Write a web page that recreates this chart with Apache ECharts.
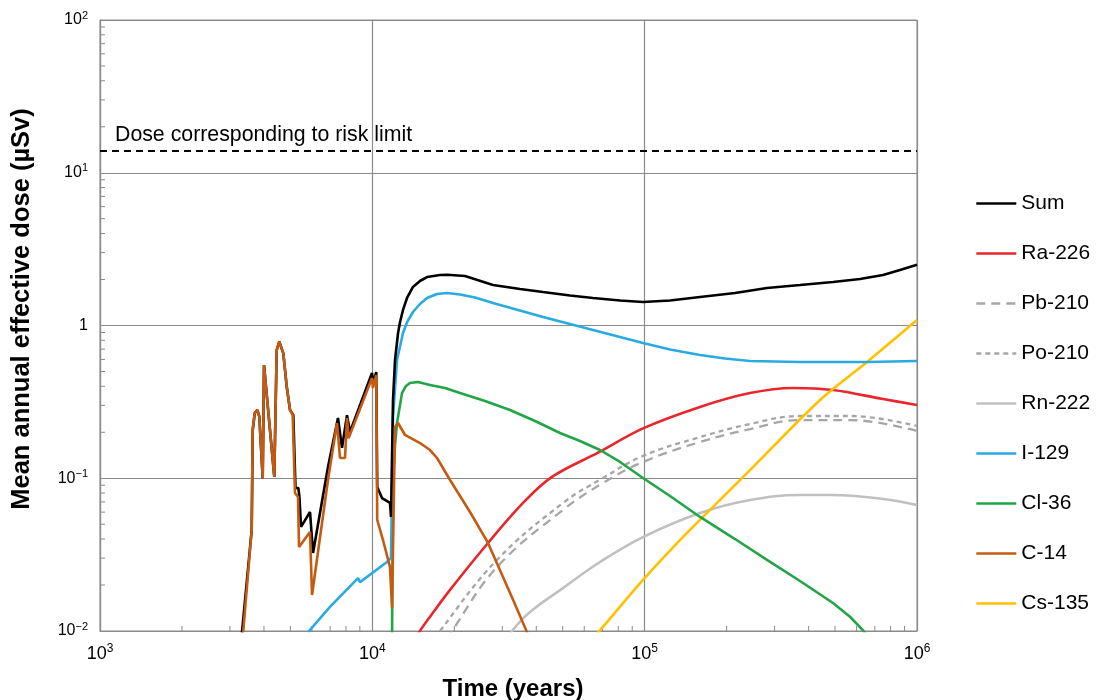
<!DOCTYPE html>
<html>
<head>
<meta charset="utf-8">
<script src="https://cdn.jsdelivr.net/npm/echarts@6/dist/echarts.min.js"></script>
<style>
html,body{margin:0;padding:0;background:#fff;}
#c{width:1097px;height:700px;}
</style>
</head>
<body>
<div id="c"></div>
<script>
// ---- data: [time (years), dose (µSv)] ----
const riskLimit = 14;
const sumData = [
 [3310,0.0092],[3606,0.0458],[3637,0.207],[3700,0.267],[3781,0.280],[3846,0.253],[3958,0.100],[4002,0.551],
 [4365,0.102],[4455,0.69],[4553,0.783],[4710,0.66],[4850,0.397],[4986,0.280],[5127,0.259],[5222,0.0863],
 [5350,0.0863],[5400,0.075],[5472,0.048],[5904,0.0601],[6057,0.0324],[6873,0.1185],[7480,0.248],[7738,0.158],
 [8072,0.259],[8279,0.201],[9972,0.489],[10080,0.42],[10337,0.496],[10423,0.0877],[10853,0.0742],[11610,0.0689],
 [11710,0.0558],[11910,0.325],[12113,0.594],[12430,0.893],[12640,1.054],[12960,1.264],[13410,1.514],[14100,1.787],
 [14960,1.956],[15880,2.077],[17730,2.14],[18800,2.15],[21890,2.109],[27740,1.841],[34860,1.734],[42350,1.657],
 [53190,1.572],[64600,1.514],[81190,1.458],[98600,1.426],[123900,1.458],[159700,1.537],[214700,1.632],[281300,1.76],
 [371900,1.841],[491500,1.927],[617600,2.016],[750400,2.14],[866200,2.309],[1000000,2.5]
];
const ra226Data = [
 [14550,0.0088],[14960,0.01],[16290,0.0124],[19290,0.0186],[26590,0.0377],[35760,0.0689],[45670,0.102],
 [67430,0.147],[98600,0.212],[159700,0.293],[243700,0.361],[350500,0.39],[491500,0.378],[750400,0.330],[1000000,0.302]
];
const pb210Data = [
 [19000,0.0088],[19620,0.01],[28700,0.0262],[50130,0.062],[70310,0.0931],[98600,0.1278],[159700,0.1727],
 [243700,0.21],[371900,0.2405],[567500,0.2405],[1000000,0.2038]
];
const po210Data = [
 [17200,0.0088],[17730,0.01],[28700,0.0292],[50130,0.0689],[70310,0.1004],[98600,0.14],[159700,0.186],
 [243700,0.2266],[371900,0.2556],[567500,0.2556],[1000000,0.22]
];
const rn222Data = [
 [31500,0.0088],[32580,0.01],[37930,0.0133],[50130,0.0191],[68550,0.0283],[98600,0.0412],[159700,0.0592],
 [243700,0.072],[371900,0.0777],[491500,0.0777],[750400,0.0731],[1000000,0.0668]
];
const i129Data = [
 [5800,0.0098],[6990,0.0144],[8860,0.0222],[9010,0.0209],[11320,0.0283],[11710,0.030],[11910,0.252],[12320,0.594],
 [12960,0.893],[13410,1.05],[14100,1.226],[14960,1.383],[15880,1.514],[17280,1.608],[18800,1.632],[20990,1.596],
 [23830,1.525],[27740,1.404],[42350,1.137],[64600,0.934],[98600,0.768],[123900,0.697],[159700,0.641],[197200,0.608],
 [243700,0.585],[371900,0.577],[655300,0.577],[1000000,0.585]
];
const cl36Data = [
 [11810,0.008],[11910,0.0931],[12113,0.165],[12320,0.230],[12850,0.361],[13290,0.402],[13750,0.420],[14710,0.427],
 [16290,0.408],[18490,0.39],[20990,0.361],[25930,0.320],[32030,0.280],[39570,0.237],[48890,0.1978],[57880,0.1754],
 [68550,0.1531],[81190,0.1278],[98600,0.1004],[123900,0.0765],[159700,0.0558],[214700,0.040],[281300,0.0292],
 [371900,0.02125],[491500,0.01525],[567500,0.0124],[633700,0.0101],[680000,0.0085]
];
const c14Data = [
 [3350,0.0095],[3606,0.0458],[3637,0.207],[3700,0.267],[3781,0.280],[3846,0.253],[3958,0.100],[4002,0.551],
 [4365,0.102],[4455,0.69],[4553,0.783],[4710,0.66],[4850,0.397],[4986,0.280],[5100,0.259],[5200,0.080],
 [5335,0.0754],[5380,0.0355],[5904,0.0445],[6006,0.0172],[6873,0.0974],[7418,0.230],[7608,0.1357],[7937,0.1357],
 [8072,0.248],[8180,0.183],[9972,0.453],[10050,0.39],[10337,0.474],[10423,0.0533],[10944,0.0394],[11610,0.0262],
 [11810,0.0142],[12113,0.2165],[12430,0.230],[13180,0.192],[14960,0.170],[16290,0.153],[17280,0.1357],[19290,0.0974],
 [22840,0.0601],[26590,0.0377],[32860,0.016],[36980,0.0098],[38000,0.0085]
];
const cs135Data = [
 [66800,0.0096],[68550,0.0101],[98600,0.0216],[134800,0.0394],[243700,0.113],[440500,0.325],[655300,0.577],[1000000,1.086]
];
const legendNames = ['Sum','Ra-226','Pb-210','Po-210','Rn-222','I-129','Cl-36','C-14','Cs-135'];
const minorMantissas = [2,3,4,5,6,7,8,9];
const xDecades = [1e3,1e4,1e5];
const yDecades = [0.01,0.1,1,10];

const FONT = 'Liberation Sans, Arial, sans-serif';
const LW = 2.6;
const xMinor = [], yMinor = [];
xDecades.forEach(d => minorMantissas.forEach(m => xMinor.push([d*m, 0.01])));
yDecades.forEach(d => minorMantissas.forEach(m => yMinor.push([1000, d*m])));

function line(name, data, color, width, dash, smooth, extra) {
  return Object.assign({
    name, type:'line', data, symbol:'none', showSymbol:false,
    smooth: smooth,
    lineStyle:{color, width, type: dash || 'solid'},
    itemStyle:{color},
    emphasis:{disabled:true}, animation:false
  }, extra || {});
}
function expLabel(v, isY) {
  const e = Math.round(Math.log10(v));
  if (isY && e === 0) return '{b|1}';
  return '{b|10}{s|' + (e < 0 ? '\u2212' : '') + Math.abs(e) + '}';
}

const chart = echarts.init(document.getElementById('c'), null, {renderer:'canvas'});
chart.setOption({
  animation:false,
  backgroundColor:'#fff',
  grid:{left:100, top:20, right:180, bottom:69, show:true, borderColor:'#8a8a8a', borderWidth:1},
  xAxis:{
    type:'log', logBase:10, min:1000, max:1000000,
    axisLine:{show:true, lineStyle:{color:'#8a8a8a', width:1}},
    axisTick:{show:false},
    splitLine:{show:true, lineStyle:{color:'#8a8a8a', width:1.2}},
    axisLabel:{
      margin:12, formatter: v => expLabel(v,false),
      rich:{ b:{fontSize:18, fontFamily:FONT, color:'#000', lineHeight:22},
             s:{fontSize:12, fontFamily:FONT, color:'#000', lineHeight:13, verticalAlign:'top'} }
    }
  },
  yAxis:{
    type:'log', logBase:10, min:0.01, max:100,
    axisLine:{show:true, lineStyle:{color:'#8a8a8a', width:1}},
    axisTick:{show:false},
    splitLine:{show:true, lineStyle:{color:'#8a8a8a', width:1.2}},
    axisLabel:{
      margin:12, formatter: v => expLabel(v,true),
      rich:{ b:{fontSize:16, fontFamily:FONT, color:'#000', lineHeight:20},
             s:{fontSize:11, fontFamily:FONT, color:'#000', lineHeight:12, verticalAlign:'top'} }
    }
  },
  legend:{
    data: legendNames, orient:'vertical', left:970, top:188,
    itemWidth:40, itemHeight:20, itemGap:29,
    itemStyle:{opacity:0},
    lineStyle:{width:2.6},
    textStyle:{fontSize:21, fontFamily:FONT, color:'#000', lineHeight:20},
    selectedMode:false
  },
  graphic:[
    {type:'text', x:115, y:135, style:{text:'Dose corresponding to risk limit', font:'21.3px '+FONT, fill:'#000', textVerticalAlign:'middle'}, z:10},
    {type:'text', x:22, y:309, rotation:Math.PI/2, style:{text:'Mean annual effective dose (\u00b5Sv)', font:'bold 25.5px '+FONT, fill:'#000', textAlign:'center', textVerticalAlign:'middle'}, z:10},
    {type:'text', x:513, y:689, style:{text:'Time (years)', font:'bold 24px '+FONT, fill:'#000', textAlign:'center', textVerticalAlign:'middle'}, z:10}
  ],
  series:[
    {type:'custom', name:'xminor', data:xMinor, clip:false, silent:true, z:1,
     renderItem:(p, api) => { const c = api.coord([api.value(0), api.value(1)]);
       return {type:'line', shape:{x1:c[0], y1:c[1], x2:c[0], y2:c[1]-5}, style:{stroke:'#8a8a8a', lineWidth:1}}; }},
    {type:'custom', name:'yminor', data:yMinor, clip:false, silent:true, z:1,
     renderItem:(p, api) => { const c = api.coord([api.value(0), api.value(1)]);
       return {type:'line', shape:{x1:c[0], y1:c[1], x2:c[0]+5, y2:c[1]}, style:{stroke:'#8a8a8a', lineWidth:1}}; }},
    line('Rn-222', rn222Data, '#c0c0c0', LW, null, 0.4),
    line('Pb-210', pb210Data, '#a6a6a6', 2.3, [9,6], 0.4),
    line('Po-210', po210Data, '#a6a6a6', 2.3, [5,4], 0.4),
    line('Ra-226', ra226Data, '#e8262b', LW, null, 0.35),
    line('Cs-135', cs135Data, '#ffc000', LW, null, 0.3),
    line('Cl-36', cl36Data, '#21a546', LW, null, false),
    line('I-129', i129Data, '#29abe2', LW, null, false),
    line('Sum', sumData, '#000000', LW, null, false, {
      markLine:{silent:true, symbol:'none', animation:false, label:{show:false},
        lineStyle:{color:'#000', type:[7,5], width:1.8},
        emphasis:{disabled:true},
        data:[{yAxis:riskLimit}]}
    }),
    line('C-14', c14Data, '#c55a11', LW, null, false)
  ]
});
</script>
</body>
</html>
